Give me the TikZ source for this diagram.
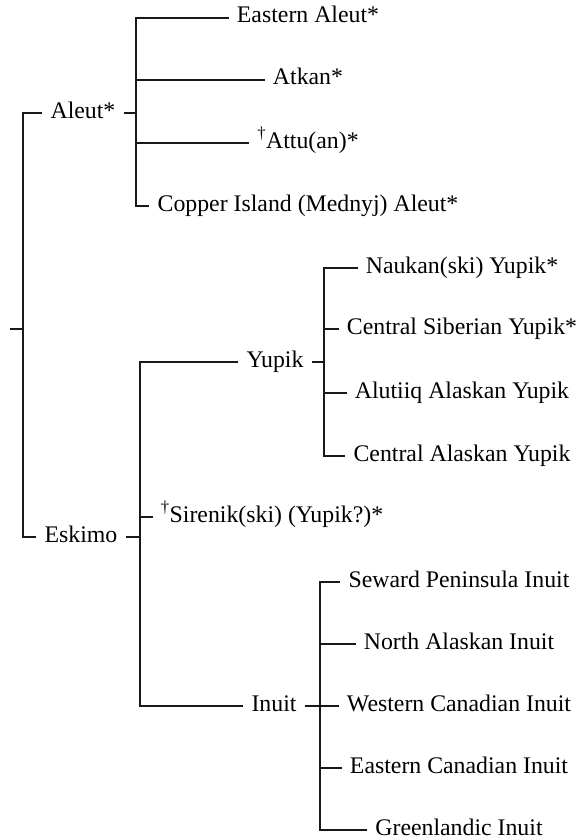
\documentclass[tikz,border=0pt]{standalone}
\usepackage{fontspec}
\setmainfont{Liberation Serif}
\begin{document}
\begin{tikzpicture}[x=1pt,y=-1pt,
  lang/.style={inner xsep=8pt,inner ysep=0pt,text height=17pt,text depth=7pt,
    font=\fontsize{23.8}{28}\selectfont},
  branch/.style={line width=1.2pt,black!90}]
\useasboundingbox (0,0) rectangle (579,840);
% top level
\coordinate (r0) at (10,329);
\coordinate (r) at (23,329);
\node[lang] (aleut) at (83,113) {Aleut*};
\node[lang] (eskimo) at (81,537) {Eskimo};
\draw[branch] (r0) -- (r);
\draw[branch] (aleut.west) -| (r) |- (eskimo.west);
% Aleut branch
\coordinate (a) at (136,113);
\node[lang] (ea) at (308,18) {Eastern Aleut*};
\node[lang] (atkan) at (308,80) {Atkan*};
\node[lang] (attu) at (308,143) {\textsuperscript{†}Attu(an)*};
\node[lang] (copper) at (308,206) {Copper Island (Mednyj) Aleut*};
\draw[branch] (aleut.east) -- (a);
\draw[branch] (ea.west) -| (a) |- (copper.west);
\draw[branch] (a |- atkan) -- (atkan.west);
\draw[branch] (a |- attu) -- (attu.west);
% Eskimo branch
\coordinate (e) at (140,537);
\node[lang] (yupik) at (275,362) {Yupik};
\node[lang] (sirenik) at (272,517) {\textsuperscript{†}Sirenik(ski) (Yupik?)*};
\node[lang] (inuit) at (274,706) {Inuit};
\draw[branch] (eskimo.east) -- (e);
\draw[branch] (yupik.west) -| (e) |- (inuit.west);
\draw[branch] (e |- sirenik) -- (sirenik.west);
% Yupik branch
\coordinate (y) at (324,362);
\node[lang] (naukan) at (462,268) {Naukan(ski) Yupik*};
\node[lang] (csy) at (462,329) {Central Siberian Yupik*};
\node[lang] (alutiiq) at (462,393) {Alutiiq Alaskan Yupik};
\node[lang] (cay) at (462,456) {Central Alaskan Yupik};
\draw[branch] (yupik.east) -- (y);
\draw[branch] (naukan.west) -| (y) |- (cay.west);
\draw[branch] (y |- csy) -- (csy.west);
\draw[branch] (y |- alutiiq) -- (alutiiq.west);
% Inuit branch
\coordinate (i) at (320,706);
\node[lang] (seward) at (459,582) {Seward Peninsula Inuit};
\node[lang] (north) at (459,644) {North Alaskan Inuit};
\node[lang] (western) at (459,706) {Western Canadian Inuit};
\node[lang] (eastern) at (459,768) {Eastern Canadian Inuit};
\node[lang] (green) at (459,830) {Greenlandic Inuit};
\draw[branch] (inuit.east) -- (western.west);
\draw[branch] (seward.west) -| (i) |- (green.west);
\draw[branch] (i |- north) -- (north.west);
\draw[branch] (i |- eastern) -- (eastern.west);
\end{tikzpicture}
\end{document}
